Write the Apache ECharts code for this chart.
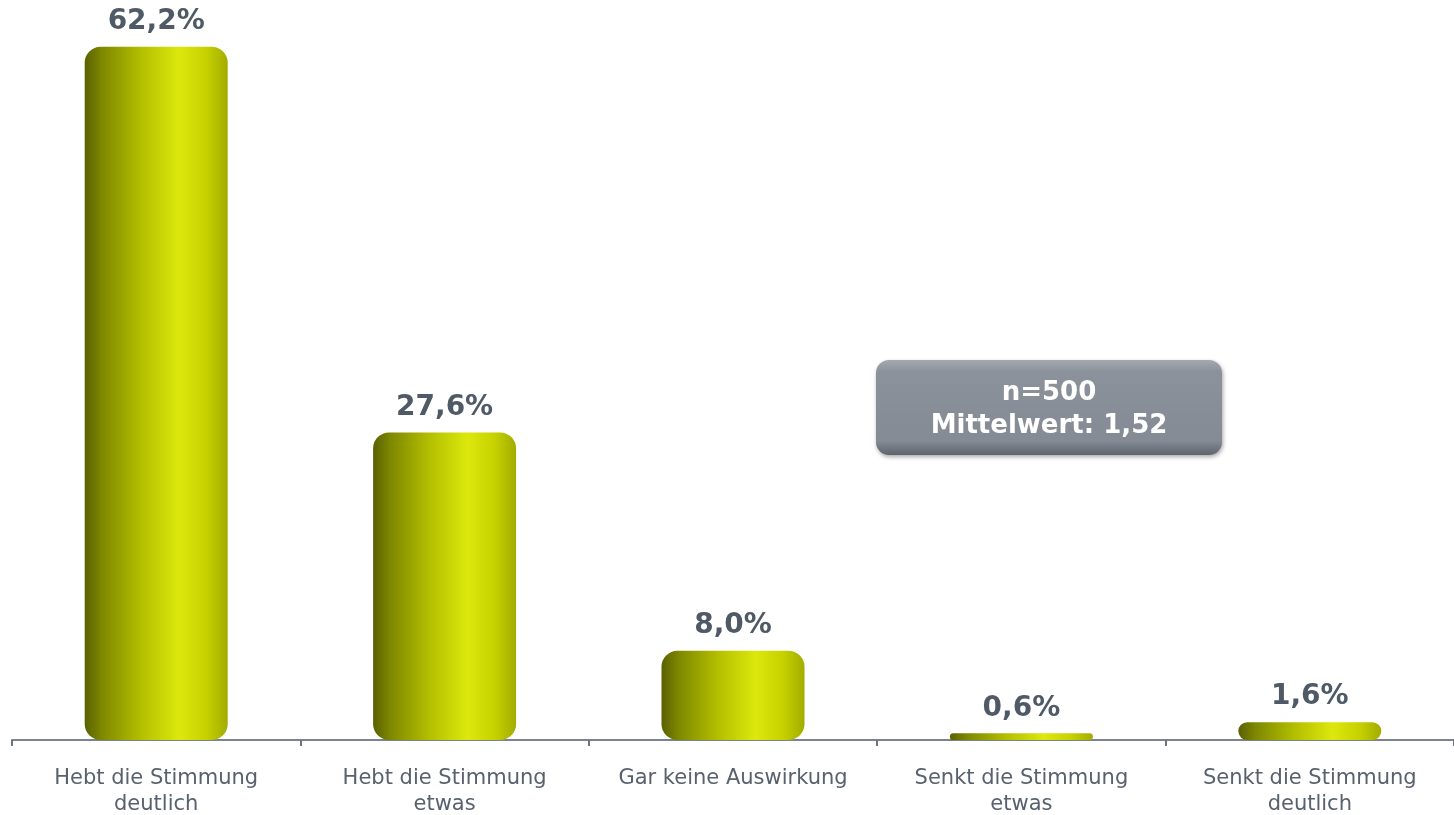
<!DOCTYPE html>
<html>
<head>
<meta charset="utf-8">
<script src="https://cdn.jsdelivr.net/npm/echarts@6/dist/echarts.min.js"></script>
<style>html,body{margin:0;padding:0;background:#fff}#c{width:1454px;height:815px}</style>
</head>
<body>
<div id="c"></div>
<script>
const categories = ["Hebt die Stimmung\ndeutlich", "Hebt die Stimmung\netwas", "Gar keine Auswirkung", "Senkt die Stimmung\netwas", "Senkt die Stimmung\ndeutlich"];
const values = [62.2, 27.6, 8.0, 0.6, 1.6];
const infoLines = ["n=500", "Mittelwert: 1,52"];

const chart = echarts.init(document.getElementById('c'), null, {renderer: 'canvas'});
const barFill = new echarts.graphic.LinearGradient(0, 0, 1, 0, [
  {offset: 0, color: '#5a6000'},
  {offset: 0.12, color: '#7e8800'},
  {offset: 0.4, color: '#b4c000'},
  {offset: 0.66, color: '#dce80c'},
  {offset: 0.85, color: '#c6d100'},
  {offset: 1, color: '#a2ac00'}
]);
chart.setOption({
  animation: false,
  grid: {left: 12, right: 0, top: 0, bottom: 75, containLabel: false, outerBoundsMode: 'none'},
  xAxis: {
    type: 'category',
    data: categories,
    axisLine: {lineStyle: {color: '#7a8490', width: 2}},
    axisTick: {show: true, length: 6, lineStyle: {color: '#6b7580', width: 2}},
    axisLabel: {interval: 0, color: '#58626e', fontSize: 21, fontFamily: 'DejaVu Sans', lineHeight: 26, margin: 26}
  },
  yAxis: {
    type: 'value', min: 0, max: 66.4,
    show: false, splitLine: {show: false}
  },
  series: [{
    type: 'bar',
    data: values,
    barWidth: 143,
    itemStyle: {color: barFill, borderRadius: 16},
    label: {
      show: true, position: 'top', distance: 11,
      formatter: p => p.value.toFixed(1).replace('.', ',') + '%',
      color: '#4f5a66', fontSize: 28, fontWeight: 'bold', fontFamily: 'DejaVu Sans'
    }
  }],
  graphic: [{
    type: 'group', left: 876, top: 360,
    children: [{
      type: 'rect',
      shape: {x: 0, y: 0, width: 346, height: 95, r: 13},
      style: {
        fill: new echarts.graphic.LinearGradient(0, 0, 0, 1, [
          {offset: 0, color: '#a4a9b0'},
          {offset: 0.12, color: '#8c929b'},
          {offset: 0.85, color: '#858b94'},
          {offset: 1, color: '#5f656e'}
        ]),
        shadowBlur: 4, shadowColor: 'rgba(0,0,0,0.35)', shadowOffsetX: 1, shadowOffsetY: 2
      }
    }, {
      type: 'text',
      x: 173, y: 50,
      style: {
        text: infoLines.join('\n'),
        fill: '#ffffff', font: 'bold 26px "DejaVu Sans"', lineHeight: 33,
        align: 'center', verticalAlign: 'middle'
      }
    }]
  }]
});
</script>
</body>
</html>
